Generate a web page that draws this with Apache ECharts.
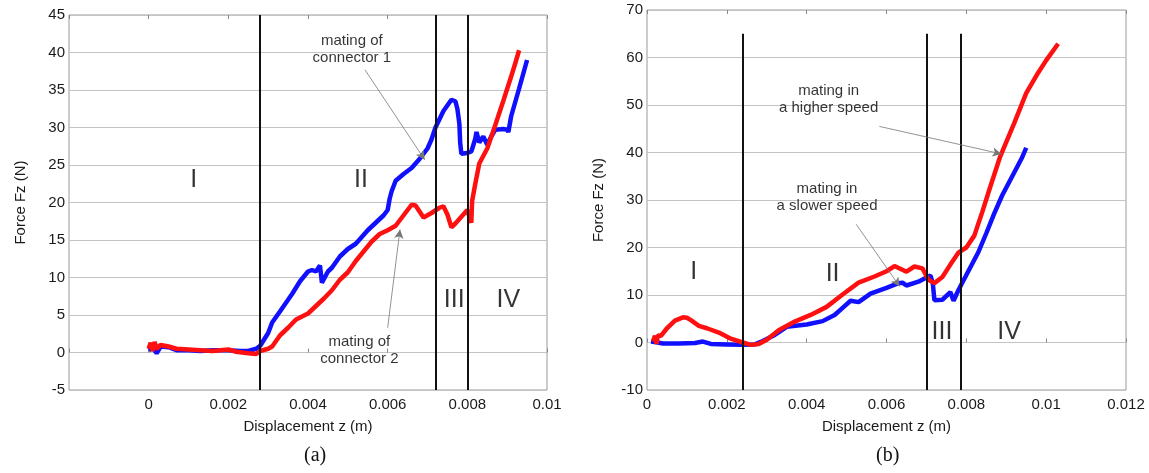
<!DOCTYPE html>
<html><head><meta charset="utf-8">
<script src="https://cdn.jsdelivr.net/npm/echarts@6/dist/echarts.min.js"></script>
<style>html,body{margin:0;padding:0;background:#fff;}#c{width:1149px;height:473px;}</style>
</head><body><div id="c"></div>
<script>
// ---- data (x in metres, y in newtons) ----
const xTicksA = [0, 0.002, 0.004, 0.006, 0.008, 0.01];
const xTicksB = [0, 0.002, 0.004, 0.006, 0.008, 0.01, 0.012];
const connector1 = [[0,0.3],[0.0001,0.6],[0.0002,-0.1],[0.0003,0.8],[0.0005,0.7],[0.0007,0.3],[0.001,0.3],[0.0013,0.2],[0.0016,0.3],[0.002,0.3],[0.0023,0.2],[0.0025,0.2],[0.0027,0.5],[0.0028,0.9],[0.003,2.6],[0.0031,4.0],[0.0033,5.5],[0.0036,7.8],[0.0038,9.5],[0.004,10.8],[0.0041,11.0],[0.0042,10.8],[0.0043,11.6],[0.00433,11.8],[0.00435,9.3],[0.0044,9.5],[0.0045,10.8],[0.0046,11.3],[0.0048,12.8],[0.005,13.8],[0.0052,14.5],[0.0055,16.3],[0.0057,17.3],[0.0059,18.3],[0.006,19.0],[0.00605,20.5],[0.0061,21.5],[0.0062,22.9],[0.0064,23.8],[0.0066,24.6],[0.0068,25.8],[0.007,27.2],[0.0071,28.4],[0.0072,30.0],[0.0074,32.2],[0.0076,33.7],[0.0077,33.5],[0.00775,32.5],[0.0078,30.5],[0.00782,28.0],[0.00785,26.5],[0.0079,26.6],[0.008,26.6],[0.0081,26.8],[0.0082,28.5],[0.00823,29.4],[0.0083,28.0],[0.0084,28.8],[0.0085,27.7],[0.0086,28.8],[0.0087,29.7],[0.0089,29.8],[0.009,29.7],[0.00903,29.4],[0.0091,31.5],[0.0093,35.2],[0.0095,39.0]];
const connector2 = [[0,0.5],[0.00005,1.3],[0.0001,0.2],[0.00015,1.4],[0.0002,0.5],[0.0003,1.0],[0.0005,0.8],[0.0007,0.5],[0.001,0.4],[0.0013,0.3],[0.0016,0.2],[0.002,0.4],[0.0022,0.1],[0.0025,-0.1],[0.0027,-0.2],[0.0028,0.2],[0.003,0.5],[0.0031,0.8],[0.0033,2.3],[0.0035,3.3],[0.0037,4.4],[0.004,5.2],[0.0042,6.2],[0.0044,7.2],[0.0046,8.3],[0.0048,9.7],[0.005,10.7],[0.0052,12.2],[0.0054,13.5],[0.0056,14.8],[0.0058,15.8],[0.006,16.3],[0.0062,16.9],[0.0064,18.3],[0.0066,19.7],[0.0067,19.6],[0.0069,18.0],[0.0071,18.6],[0.0073,19.3],[0.0074,19.5],[0.0075,18.4],[0.0076,16.7],[0.0077,17.2],[0.0079,18.4],[0.008,19.0],[0.00805,18.8],[0.0081,17.3],[0.00812,20.2],[0.0082,22.5],[0.0083,25.2],[0.0085,27.2],[0.0087,30.3],[0.0089,33.5],[0.0091,36.8],[0.0092,38.5],[0.0093,40.3]];
const higherSpeed = [[0.00015,0.2],[0.0002,1.4],[0.00024,-0.3],[0.00027,1.5],[0.00035,1.4],[0.0005,3.0],[0.0007,4.6],[0.0009,5.3],[0.001,5.2],[0.0011,4.7],[0.0013,3.5],[0.0015,3.0],[0.0018,2.1],[0.0021,0.8],[0.0024,0],[0.0026,-0.5],[0.0028,-0.3],[0.003,0.6],[0.0033,2.6],[0.0037,4.4],[0.0041,5.8],[0.0045,7.5],[0.0049,10.1],[0.0053,12.6],[0.0057,13.9],[0.006,15.0],[0.0062,16.1],[0.0065,14.9],[0.0067,16.0],[0.0069,15.6],[0.00705,13.2],[0.0072,12.5],[0.0074,13.8],[0.0076,16.4],[0.0078,18.9],[0.008,20.0],[0.0082,22.5],[0.0084,27.5],[0.0086,32.8],[0.00885,39.2],[0.0092,46.2],[0.0095,52.5],[0.0098,56.8],[0.01,59.4],[0.0103,62.9]];
const slowerSpeed = [[0.0001,0.2],[0.0002,0.1],[0.0004,-0.2],[0.0008,-0.2],[0.0012,-0.1],[0.0014,0.2],[0.0016,-0.3],[0.002,-0.4],[0.0024,-0.5],[0.0027,-0.4],[0.0029,0.3],[0.0032,1.6],[0.0035,3.3],[0.004,3.8],[0.0044,4.5],[0.0047,5.8],[0.0049,7.3],[0.0051,8.8],[0.0053,8.5],[0.0056,10.3],[0.006,11.5],[0.0063,12.5],[0.0064,12.6],[0.0065,12.0],[0.0068,12.8],[0.007,13.7],[0.0071,14.1],[0.00716,12.5],[0.0072,8.9],[0.0074,9.0],[0.0076,10.6],[0.00768,8.8],[0.0078,11.0],[0.008,14.2],[0.0083,19.0],[0.0085,23.0],[0.0087,27.2],[0.0089,31.0],[0.0092,35.8],[0.0094,39.0],[0.0095,41.0]];
const stageLinesA = [0.0028, 0.0072, 0.0080];
const stageLinesB = [0.0024, 0.0070, 0.00785];
const stageLabelsA = [['I',0.00113,23.0],['II',0.00533,23.0],['III',0.00767,7.0],['IV',0.00903,7.0]];
const stageLabelsB = [['I',0.00117,14.9],['II',0.00465,14.4],['III',0.00739,2.2],['IV',0.00907,2.2]];
const notesA = [['mating of\nconnector 1',0.0051,40.4],['mating of\nconnector 2',0.00529,0.3]];
const notesB = [['mating in\na higher speed',0.00455,51.2],['mating in\na slower speed',0.00451,30.6]];
const arrowsA = [[[0.00543,37.7],[0.00693,25.7]],[[0.0060,3.3],[0.00631,16.4]]];
const arrowsB = [[[0.00582,45.5],[0.00888,39.7]],[[0.00524,24.9],[0.00633,11.8]]];

const FONT = 'Liberation Sans, Arial, sans-serif';
const txt = '#1a1a1a';
function fmtX(ticks){ return v => { for (const t of ticks){ if (Math.abs(v-t)<1e-9) return String(t); } return ''; }; }
function xAxisDef(gi, min, max, ticks, name){
  return [{
    type:'value', gridIndex:gi, min:min, max:max, interval:0.002,
    name:name, nameLocation:'middle', nameGap:29,
    nameTextStyle:{fontFamily:FONT,fontSize:15,color:txt},
    axisLine:{show:false}, axisTick:{show:true,inside:true,length:4,lineStyle:{color:'#888'}},
    axisLabel:{fontFamily:FONT,fontSize:15,color:txt,margin:7,formatter:fmtX(ticks)},
    splitLine:{show:false}
  },{
    type:'value', gridIndex:gi, position:'top', min:min, max:max, interval:0.002,
    axisLine:{show:false}, axisTick:{show:true,inside:true,length:4,lineStyle:{color:'#888'}},
    axisLabel:{show:false}, splitLine:{show:false}
  }];
}
function yAxisDef(gi, min, max, interval){
  return {
    type:'value', gridIndex:gi, min:min, max:max, interval:interval,
    name:'Force Fz (N)', nameLocation:'middle', nameGap:41, nameRotate:90,
    nameTextStyle:{fontFamily:FONT,fontSize:15,color:txt},
    axisLine:{show:false}, axisTick:{show:false},
    axisLabel:{fontFamily:FONT,fontSize:15,color:txt,margin:4},
    splitLine:{show:true,lineStyle:{color:'#c4c4c4',width:1}}
  };
}
function vlines(xs, y0, y1){
  return xs.map(x => [{coord:[x,y0]},{coord:[x,y1]}]);
}
function dataSeries(name, data, color, xi, yi){
  return {
    name:name, type:'line', xAxisIndex:xi, yAxisIndex:yi, data:data,
    showSymbol:false, symbol:'none', lineStyle:{color:color,width:4.5}, itemStyle:{color:color},
    z:3, animation:false
  };
}
function textSeries(items, xi, yi, size){
  return {
    type:'scatter', xAxisIndex:xi, yAxisIndex:yi, symbolSize:0, silent:true, animation:false, z:5,
    data: items.map(t => ({value:[t[1],t[2]], name:t[0]})),
    label:{show:true, position:[0,0], align:'center', verticalAlign:'middle',
      formatter: p => p.name, fontFamily:FONT, fontSize:size, color:'#000', lineHeight: size<20?17:size}
  };
}
function arrowSeries(arrows, xi, yi){
  return {
    type:'line', xAxisIndex:xi, yAxisIndex:yi, data:[], silent:true, animation:false, z:6,
    markLine:{silent:true, symbol:['none','arrow'], symbolSize:[7,9], label:{show:false},
      lineStyle:{color:'#777',width:0.8,type:'solid'}, itemStyle:{color:'#000'},
      data: arrows.map(a => [{coord:a[0]},{coord:a[1]}]), animation:false}
  };
}
function stageSeries(xs, y0, y1, xi, yi){
  return {
    type:'line', xAxisIndex:xi, yAxisIndex:yi, data:[], silent:true, animation:false, z:4,
    markLine:{silent:true, symbol:['none','none'], label:{show:false},
      lineStyle:{color:'#111',width:2,type:'solid'}, data: vlines(xs,y0,y1), animation:false}
  };
}

const option = {
  animation:false,
  backgroundColor:'#fff',
  grid:[
    {left:69, top:15, width:478, height:375, show:true, borderColor:'#9a9a9a', borderWidth:1, backgroundColor:'transparent'},
    {left:647, top:10, width:479, height:380, show:true, borderColor:'#9a9a9a', borderWidth:1, backgroundColor:'transparent'}
  ],
  xAxis: xAxisDef(0,-0.002,0.01,xTicksA,'Displacement z (m)').concat(xAxisDef(1,0,0.012,xTicksB,'Displacement z (m)')),
  yAxis: [yAxisDef(0,-5,45,5), yAxisDef(1,-10,70,10)],
  graphic:[
    {type:'text', left:304, top:446, style:{text:'(a)', font:'20px "Liberation Serif", serif', fill:'#111'}},
    {type:'text', left:876, top:446, style:{text:'(b)', font:'20px "Liberation Serif", serif', fill:'#111'}}
  ],
  series:[
    stageSeries(stageLinesA,-5,45,0,0),
    dataSeries('connector 1', connector1, '#1010ff', 0, 0),
    dataSeries('connector 2', connector2, '#ff1010', 0, 0),
    textSeries(stageLabelsA,0,0,25),
    textSeries(notesA,0,0,15),
    arrowSeries(arrowsA,0,0),
    stageSeries(stageLinesB,-10,65,2,1),
    dataSeries('slower', slowerSpeed, '#1010ff', 2, 1),
    dataSeries('higher', higherSpeed, '#ff1010', 2, 1),
    textSeries(stageLabelsB,2,1,25),
    textSeries(notesB,2,1,15),
    arrowSeries(arrowsB,2,1)
  ]
};
const chart = echarts.init(document.getElementById('c'), null, {renderer:'canvas'});
chart.setOption(option);
</script>
</body></html>
